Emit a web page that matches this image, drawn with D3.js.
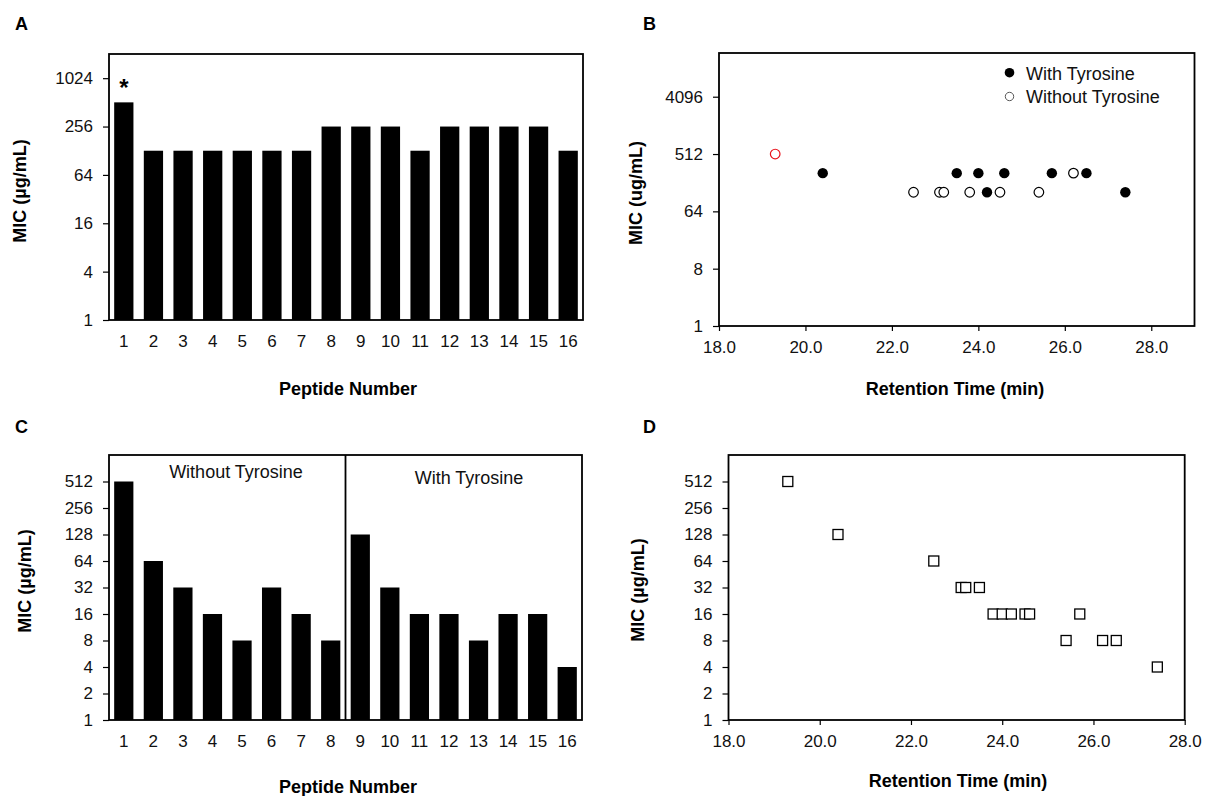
<!DOCTYPE html>
<html>
<head>
<meta charset="utf-8">
<script src="https://cdn.jsdelivr.net/npm/d3@7"></script>
<style>
  html, body { margin: 0; padding: 0; background: #fff; }
  svg { display: block; font-family: Arial, "Liberation Sans", sans-serif; }
</style>
</head>
<body>
<svg id="chart" width="1206" height="796"></svg>
<script>
// ---------------- DATA ----------------
const peptides = [1,2,3,4,5,6,7,8,9,10,11,12,13,14,15,16];
const micA = [512,128,128,128,128,128,128,256,256,256,128,256,256,256,256,128];
const micC = [512,64,32,16,8,32,16,8,128,32,16,16,8,16,16,4];

const withTyrRT  = [20.4,23.5,24.0,24.6,25.7,26.5,24.2,27.4];
const withTyrMIC = [256,256,256,256,256,256,128,128];
const withoutTyrRT  = [19.3,22.5,23.1,23.2,23.8,24.5,25.4,26.2];
const withoutTyrMIC = [512,128,128,128,128,128,128,256];
const withoutTyrHighlight = [true,false,false,false,false,false,false,false];

const rtD  = [19.3,20.4,22.5,23.1,23.2,23.5,23.8,24.0,24.2,24.5,24.6,25.7,25.4,26.2,26.5,27.4];
const micD = [512,128,64,32,32,32,16,16,16,16,16,16,8,8,8,4];

const ticksA = [1,4,16,64,256,1024];
const ticksB = [1,8,64,512,4096];
const ticksCD = [1,2,4,8,16,32,64,128,256,512];
const rtTicks = [18,20,22,24,26,28];

// ---------------- HELPERS ----------------
const svg = d3.select("#chart");
const FONT = "Arial, 'Liberation Sans', sans-serif";
const TICK_FS = 17, TITLE_FS = 18;

function frame(g, x0, x1, y0, y1) {
  g.append("rect").attr("x", x0).attr("y", y0).attr("width", x1 - x0).attr("height", y1 - y0)
    .attr("fill", "none").attr("stroke", "#000").attr("stroke-width", 1.8);
}

function yAxisLog(g, y, x0, ticks) {
  const ax = d3.axisLeft(y).tickValues(ticks).tickFormat(d3.format("d")).tickSize(6).tickPadding(10);
  const a = g.append("g").attr("transform", `translate(${x0},0)`).call(ax);
  a.select(".domain").remove();
  a.selectAll("line").attr("stroke", "#000").attr("stroke-width", 1.2);
  a.selectAll("text").attr("font-size", TICK_FS).attr("fill", "#111").attr("font-family", FONT);
}

function xAxisLinear(g, x, y1, ticks) {
  const ax = d3.axisBottom(x).tickValues(ticks).tickFormat(d3.format(".1f")).tickSize(5).tickPadding(10);
  const a = g.append("g").attr("transform", `translate(0,${y1})`).call(ax);
  a.select(".domain").remove();
  a.selectAll("line").attr("stroke", "#000").attr("stroke-width", 1.2);
  a.selectAll("text").attr("font-size", TICK_FS).attr("fill", "#111").attr("dy", "0.71em")
    .attr("font-family", FONT);
}

function xAxisBand(g, x, y1) {
  const ax = d3.axisBottom(x).tickSize(0).tickPadding(15);
  const a = g.append("g").attr("transform", `translate(0,${y1})`).call(ax);
  a.select(".domain").remove();
  a.selectAll("text").attr("font-size", TICK_FS).attr("fill", "#111").attr("dy", "0.71em")
    .attr("font-family", FONT);
}

function yTitle(g, text, bx, cy) {
  g.append("text").attr("transform", `translate(${bx},${cy}) rotate(-90)`)
    .attr("text-anchor", "middle").attr("font-size", TITLE_FS).attr("font-weight", "bold").text(text);
}
function xTitle(g, text, cx, by) {
  g.append("text").attr("x", cx).attr("y", by).attr("text-anchor", "middle")
    .attr("font-size", TITLE_FS).attr("font-weight", "bold").text(text);
}
function panelLabel(g, text, x, y) {
  g.append("text").attr("x", x).attr("y", y).attr("font-size", 18).attr("font-weight", "bold").text(text);
}

// ---------------- PANEL A ----------------
{
  const g = svg.append("g");
  const x0 = 109, x1 = 583, y0 = 54, y1 = 320;
  const x = d3.scaleBand().domain(peptides).range([x0, x1]).paddingInner(0.35).paddingOuter(0.175);
  const y = d3.scaleLog().base(2).domain([1, 2048]).range([y1, y0]);
  g.selectAll("rect.bar").data(peptides).join("rect").attr("class", "bar")
    .attr("x", d => x(d)).attr("width", x.bandwidth())
    .attr("y", (d, i) => y(micA[i])).attr("height", (d, i) => y1 - y(micA[i]))
    .attr("fill", "#000");
  frame(g, x0, x1, y0, y1);
  yAxisLog(g, y, x0, ticksA);
  xAxisBand(g, x, y1);
  g.append("text").attr("x", x(1) + x.bandwidth() / 2).attr("y", y(micA[0]) - 6)
    .attr("text-anchor", "middle").attr("font-size", 24).attr("font-weight", "bold").text("*");
  yTitle(g, "MIC (µg/mL)", 26, 191);
  xTitle(g, "Peptide Number", 348, 395);
  panelLabel(g, "A", 15, 30);
}

// ---------------- PANEL B ----------------
{
  const g = svg.append("g");
  const x0 = 719, x1 = 1194.5, y0 = 53, y1 = 326;
  const x = d3.scaleLinear().domain([18, 29]).range([x0, x1]);
  const y = d3.scaleLog().base(2).domain([1, 20000]).range([y1, y0]);
  frame(g, x0, x1, y0, y1);
  yAxisLog(g, y, x0, ticksB);
  xAxisLinear(g, x, y1, rtTicks);
  g.selectAll("circle.with").data(withTyrRT).join("circle").attr("class", "with")
    .attr("cx", d => x(d)).attr("cy", (d, i) => y(withTyrMIC[i])).attr("r", 5.2)
    .attr("fill", "#000");
  g.selectAll("circle.without").data(withoutTyrRT).join("circle").attr("class", "without")
    .attr("cx", d => x(d)).attr("cy", (d, i) => y(withoutTyrMIC[i])).attr("r", 4.8)
    .attr("fill", "#fff").attr("stroke", (d, i) => withoutTyrHighlight[i] ? "#e8121b" : "#000")
    .attr("stroke-width", 1.2);
  // legend
  const lg = g.append("g");
  lg.append("circle").attr("cx", 1009.5).attr("cy", 72.7).attr("r", 4.8).attr("fill", "#000");
  lg.append("circle").attr("cx", 1009.5).attr("cy", 96.5).attr("r", 4.2).attr("fill", "#fff")
    .attr("stroke", "#444").attr("stroke-width", 0.9);
  lg.append("text").attr("x", 1026).attr("y", 79.5).attr("font-size", 18).attr("fill", "#111").text("With Tyrosine");
  lg.append("text").attr("x", 1026).attr("y", 103.3).attr("font-size", 18).attr("fill", "#111").text("Without Tyrosine");
  yTitle(g, "MIC (ug/mL)", 641.5, 193);
  xTitle(g, "Retention Time (min)", 955, 395);
  panelLabel(g, "B", 643, 30);
}

// ---------------- PANEL C ----------------
{
  const g = svg.append("g");
  const x0 = 109, x1 = 582, y0 = 455, y1 = 720;
  const x = d3.scaleBand().domain(peptides).range([x0, x1]).paddingInner(0.35).paddingOuter(0.175);
  const y = d3.scaleLog().base(2).domain([1, 1024]).range([y1, y0]);
  g.selectAll("rect.bar").data(peptides).join("rect").attr("class", "bar")
    .attr("x", d => x(d)).attr("width", x.bandwidth())
    .attr("y", (d, i) => y(micC[i])).attr("height", (d, i) => y1 - y(micC[i]))
    .attr("fill", "#000");
  frame(g, x0, x1, y0, y1);
  const divX = x(9) - x.step() * x.paddingInner() / 2;
  g.append("line").attr("x1", divX).attr("x2", divX).attr("y1", y0).attr("y2", y1)
    .attr("stroke", "#000").attr("stroke-width", 1.8);
  yAxisLog(g, y, x0, ticksCD);
  xAxisBand(g, x, y1);
  g.append("text").attr("x", 236).attr("y", 478).attr("text-anchor", "middle")
    .attr("font-size", 18).attr("fill", "#111").text("Without Tyrosine");
  g.append("text").attr("x", 469).attr("y", 483.5).attr("text-anchor", "middle")
    .attr("font-size", 18).attr("fill", "#111").text("With Tyrosine");
  yTitle(g, "MIC (µg/mL)", 31, 581);
  xTitle(g, "Peptide Number", 348, 793);
  panelLabel(g, "C", 15, 433);
}

// ---------------- PANEL D ----------------
{
  const g = svg.append("g");
  const x0 = 728.5, x1 = 1184.7, y0 = 455, y1 = 720;
  const x = d3.scaleLinear().domain([18, 28]).range([x0, x1]);
  const y = d3.scaleLog().base(2).domain([1, 1024]).range([y1, y0]);
  frame(g, x0, x1, y0, y1);
  yAxisLog(g, y, x0, ticksCD);
  xAxisLinear(g, x, y1, rtTicks);
  const s = 10;
  g.selectAll("rect.pt").data(rtD).join("rect").attr("class", "pt")
    .attr("x", d => x(d) - s / 2).attr("y", (d, i) => y(micD[i]) - s / 2)
    .attr("width", s).attr("height", s)
    .attr("fill", "#fff").attr("stroke", "#000").attr("stroke-width", 1.3);
  yTitle(g, "MIC (µg/mL)", 644, 590);
  xTitle(g, "Retention Time (min)", 958, 787);
  panelLabel(g, "D", 643, 433);
}
</script>
</body>
</html>
